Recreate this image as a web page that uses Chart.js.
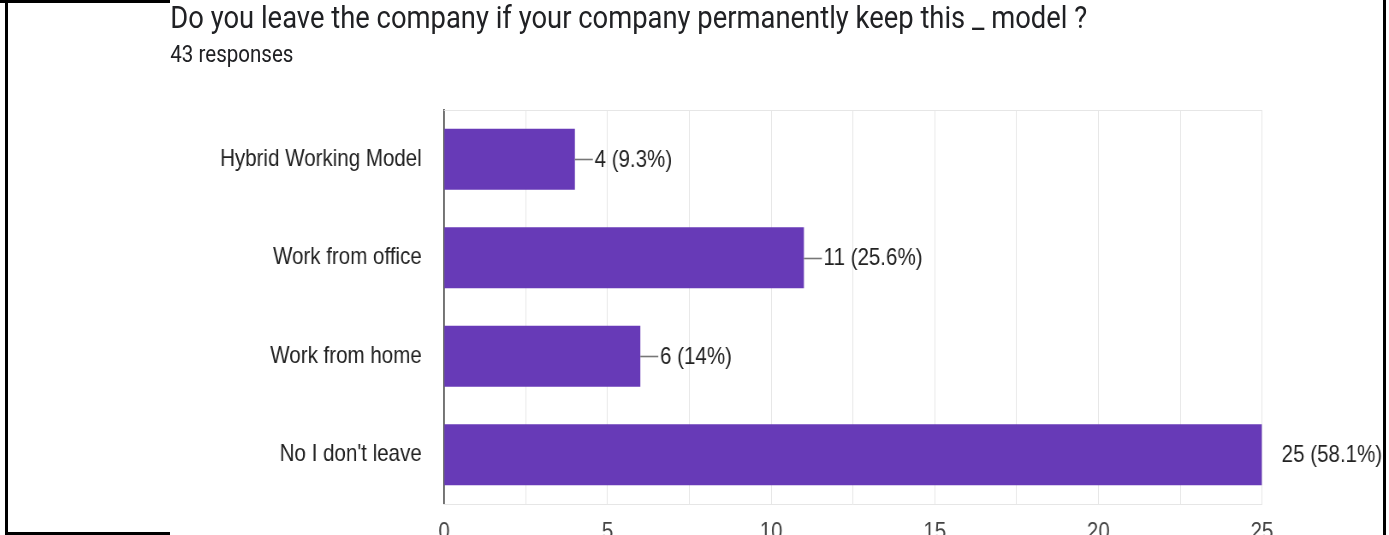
<!DOCTYPE html>
<html>
<head>
<meta charset="utf-8">
<script src="https://cdn.jsdelivr.net/npm/chart.js@4"></script>
<style>
  html, body { margin: 0; padding: 0; background: #fff; overflow: hidden; }
  body { width: 1389px; height: 535px; position: relative; }
  /* the screenshot is squeezed horizontally, so draw wide and squeeze */
  #wrap { position: absolute; left: 0; top: 0; width: 1623px; height: 535px;
          transform: scaleX(0.8558); transform-origin: 0 0; }
  #title { position: absolute; left: 199px; top: 1px; font: 32px Roboto, sans-serif;
           line-height: 1; color: #202124; white-space: nowrap; }
  #sub { position: absolute; left: 199px; top: 42px; font: 24px Roboto, sans-serif;
         line-height: 1; color: #202124; white-space: nowrap; }
  .edge { position: absolute; background: #000; }
</style>
</head>
<body>
<div id="wrap">
  <canvas id="chart"></canvas>
  <div id="title">Do you leave the company if your company permanently keep this _ model ?</div>
  <div id="sub">43 responses</div>
</div>
<div class="edge" style="left:5px;top:0;width:3px;height:535px"></div>
<div class="edge" style="left:0;top:0;width:170px;height:3px"></div>
<div class="edge" style="left:1383px;top:0;width:3px;height:535px"></div>
<div class="edge" style="left:5px;top:532px;width:165px;height:3px"></div>

<script>
// datos
const categories = ['Hybrid Working Model', 'Work from office', 'Work from home', "No I don't leave"];
const counts = [4, 11, 6, 25];
const percents = ['9.3%', '25.6%', '14%', '58.1%'];
const xTicks = [0, 5, 10, 15, 20, 25];

const gridColor = '#e6e6e6';

// línea superior del área y etiquetas de valor
const extras = {
    id: 'extras',
    beforeDatasetsDraw(chart) {
        const { ctx, chartArea } = chart;
        ctx.save();
        ctx.strokeStyle = gridColor;
        ctx.lineWidth = 1;
        ctx.beginPath();
        ctx.moveTo(chartArea.left, chartArea.top + 0.5);
        ctx.lineTo(chartArea.right, chartArea.top + 0.5);
        ctx.stroke();
        ctx.restore();
    },
    afterDatasetsDraw(chart) {
        const { ctx } = chart;
        const xMax = chart.scales.x.max;
        const bars = chart.getDatasetMeta(0).data;
        ctx.save();
        ctx.font = '24px "Liberation Sans", Arial, sans-serif';
        ctx.fillStyle = '#222';
        ctx.textBaseline = 'middle';
        bars.forEach((bar, i) => {
            if (counts[i] < xMax) {
                ctx.strokeStyle = '#777';
                ctx.lineWidth = 1.6;
                ctx.beginPath();
                ctx.moveTo(bar.x, Math.round(bar.y) + 0.5);
                ctx.lineTo(bar.x + 21, Math.round(bar.y) + 0.5);
                ctx.stroke();
            }
            ctx.fillText(counts[i] + ' (' + percents[i] + ')', bar.x + 23, bar.y + 1);
        });
        ctx.restore();
    }
};

new Chart(document.getElementById('chart'), {
    type: 'bar',
    data: {
        labels: categories,
        datasets: [{
            data: counts,
            backgroundColor: '#673ab7',
            barPercentage: 0.62,
            categoryPercentage: 1
        }]
    },
    options: {
        indexAxis: 'y',
        responsive: true,
        maintainAspectRatio: false,
        animation: false,
        events: [],
        layout: { padding: { left: 0, right: 148.4, top: 110, bottom: 0 } },
        plugins: { legend: { display: false }, tooltip: { enabled: false } },
        scales: {
            y: {
                // ancho fijo y sin relleno extra arriba/abajo
                afterFit: s => { s.width = 518.8; s.paddingTop = 0; s.paddingBottom = 0; },
                grid: { display: false, drawTicks: false },
                border: { display: true, color: '#333', width: 1.6 },
                ticks: {
                    padding: 26,
                    color: '#222',
                    font: { family: '"Liberation Sans", Arial, sans-serif', size: 24 }
                }
            },
            x: {
                min: xTicks[0],
                max: xTicks[xTicks.length - 1],
                afterFit: s => { s.height = 31; },
                grid: {
                    drawTicks: false,
                    color: c => (c.tick && c.tick.value === 0) ? 'rgba(0,0,0,0)' : gridColor
                },
                border: { display: true, color: gridColor, width: 1 },
                ticks: {
                    stepSize: 2.5,
                    autoSkip: false,
                    maxRotation: 0,
                    padding: 14,
                    color: '#444',
                    font: { family: '"Liberation Sans", Arial, sans-serif', size: 24 },
                    callback: v => xTicks.includes(v) ? v : ''
                }
            }
        }
    },
    plugins: [extras]
});
</script>
</body>
</html>
